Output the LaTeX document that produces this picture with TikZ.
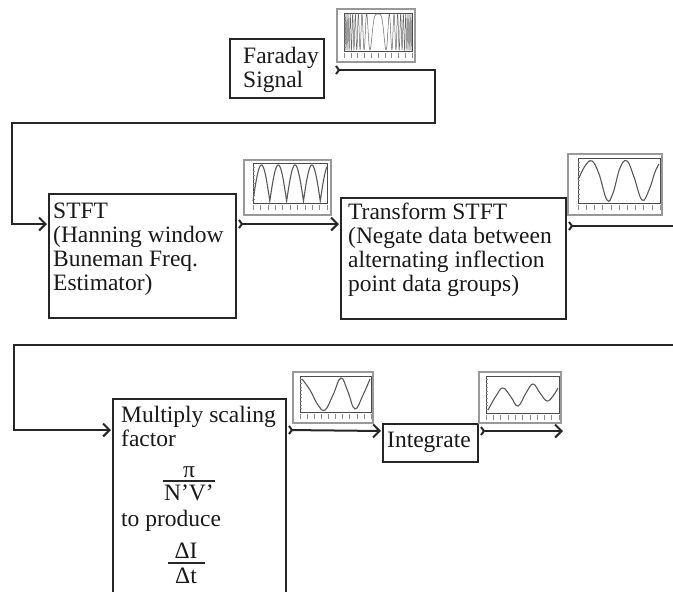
\documentclass[tikz,border=0pt]{standalone}
\usepackage{fontspec}
\setmainfont{Liberation Serif}
\usetikzlibrary{arrows.meta,calc}

% small plot thumbnail: outer frame, inner axes box and tick marks
% #1,#2 outer top-left; #3,#4 outer bottom-right; #5..#8 inner axes box
\newcommand\plotframe[8]{%
  \draw[thumbframe] (#1,#2) rectangle (#3,#4);
  \draw[axesbox] (#5,#6) rectangle (#7,#8);
  \foreach \i in {0,...,10}{
    \draw[tickmark] ({#5+\i*(#7-#5)/10},{#8+2}) -- ++(0,5);
  }
  \foreach \i in {1,...,9}{
    \draw[tickmark] (#5,{#6+\i*(#8-#6)/10}) -- ++(2,0);
  }
}

\begin{document}
\begin{tikzpicture}[x=1pt,y=-1pt,
  block/.style={draw=black!85, line width=2pt, rectangle, inner sep=0pt,
    anchor=north west},
  % multi-line text: the base anchor sits on the last line
  txt/.style={inner sep=0pt, anchor=base west, align=left,
    font=\fontsize{23.5}{23.8}\selectfont, text=black!90},
  frac/.style={inner sep=0pt, anchor=base,
    font=\fontsize{23.5}{23.8}\selectfont, text=black!90},
  fracbar/.style={draw=black!85, line width=1.3pt},
  flow/.style={draw=black!85, line width=2pt,
    {Straight Barb[reversed,length=3pt,width=8pt]}-{Straight Barb[length=6.5pt,width=13pt]}},
  flowend/.style={draw=black!85, line width=2pt,
    {Straight Barb[reversed,length=3pt,width=8pt]}-},
  feed/.style={draw=black!85, line width=2pt, -{Straight Barb[length=6.5pt,width=13pt]}},
  thumbframe/.style={draw=black!40, line width=1.2pt, fill=white},
  axesbox/.style={draw=black!70, line width=0.6pt},
  tickmark/.style={draw=black!45, line width=0.5pt},
  curve/.style={draw=black!65, line width=1.1pt},
]
\useasboundingbox (0,0) rectangle (673,592);
\clip (0,0) rectangle (673,592);

% ---------- blocks ----------
\node[block, minimum width=94, minimum height=59] (far) at (229,38) {};
\node[block, minimum width=187, minimum height=124] (stft) at (48,193) {};
\node[block, minimum width=225, minimum height=121] (trans) at (340,197) {};
\node[block, minimum width=173, minimum height=220] (mult) at (112,398) {};
\node[block, minimum width=95, minimum height=38] (integ) at (382,423) {};

% ---------- block texts ----------
\node[txt] (fartxt) at (243,87) {Faraday\\Signal};
\node[txt] (stfttxt) at (53,290) {STFT\\(Hanning window\\Buneman Freq.\\Estimator)};
\node[txt] (transtxt) at (348,291) {Transform STFT\\(Negate data between\\alternating inflection\\point data groups)};
\node[txt] (multtxt) at (121,446) {Multiply scaling\\factor};
\node[frac] (pinum) at (189,477) {π};
\draw[fracbar] (163,481) -- (215,481);
\node[frac] (piden) at (189,500) {N’V’};
\node[txt] (produce) at (121,526) {to produce};
\node[frac] (dinum) at (186,558) {ΔI};
\draw[fracbar] (168,563) -- (205,563);
\node[frac] (diden) at (186,583) {Δt};
\node[txt] (integtxt) at (387,447) {Integrate};

% ---------- ports and bends ----------
\coordinate (farout) at ([shift={(10,32)}]far.north east);
\coordinate (bendA) at (435,123);
\coordinate (bendB) at (12,123);
\coordinate (stftin) at ([shift={(-1,31)}]stft.north west);
\coordinate (stftout) at ([shift={(1,31)}]stft.north east);
\coordinate (transin) at ([shift={(-1,27)}]trans.north west);
\coordinate (transout) at ([shift={(1,29)}]trans.north east);
\coordinate (rowend) at (676,226);
\coordinate (rowstart) at (676,345);
\coordinate (bendC) at (14,345);
\coordinate (multin) at ([shift={(-1,32)}]mult.north west);
\coordinate (multout) at ([shift={(1,32)}]mult.north east);
\coordinate (integin) at ([shift={(-1,8)}]integ.north west);
\coordinate (integout) at ([shift={(1,8)}]integ.north east);
\coordinate (result) at (563,431);

% ---------- connectors ----------
\draw[flow] (farout) -| (bendA) -- (bendB) |- (stftin);
\draw[flow] (stftout) -- (transin);
\draw[flowend] (transout) -- (rowend);
\draw[feed] (rowstart) -- (bendC) |- (multin);
\draw[flow] (multout) -- (integin);
\draw[flow] (integout) -- (result);

% ---------- thumbnails ----------
% Faraday signal: chirp, slow in the middle
\plotframe{337}{9}{415}{62}{344}{13}{412}{51}
\begin{scope}
  \clip (344,13) rectangle (412,51);
  \draw[draw=black!60, line width=0.5pt] plot[domain=0:1, samples=700, variable=\t]
    ({344+68*\t},{32-18*cos(deg(2*pi*9*(2*\t-1)^2))});
\end{scope}

% STFT output: rectified arches
\plotframe{244}{160}{331}{215}{253}{163}{327}{203}
\draw[curve] plot[domain=0:1, samples=300, variable=\t]
  ({253+74*\t},{201-36*abs(sin(deg(pi*4.4*\t)))});

% transformed STFT: sinusoid
\plotframe{568}{154}{662}{215}{578}{158}{660}{203}
\draw[curve] plot[smooth, tension=0.7] coordinates
  {(579,178) (585,166) (592,161) (599,174) (607,200) (613,193) (620,168) (627,161) (634,177) (642,200) (649,190) (655,172) (659,164)};

% scaled signal
\plotframe{293}{372}{373}{423}{300}{376}{371}{412}
\draw[curve] plot[smooth, tension=0.7] coordinates
  {(302,379) (310,390) (318,405) (325,410) (333,395) (341,378) (348,392) (355,409) (363,395) (370,379)};

% integrated signal
\plotframe{479}{372}{561}{423}{486}{376}{559}{413}
\draw[curve] plot[smooth, tension=0.7] coordinates
  {(488,410) (496,396) (503,388) (511,397) (518,406) (526,393) (533,384) (540,393) (547,401) (553,396) (558,388)};
\end{tikzpicture}
\end{document}
